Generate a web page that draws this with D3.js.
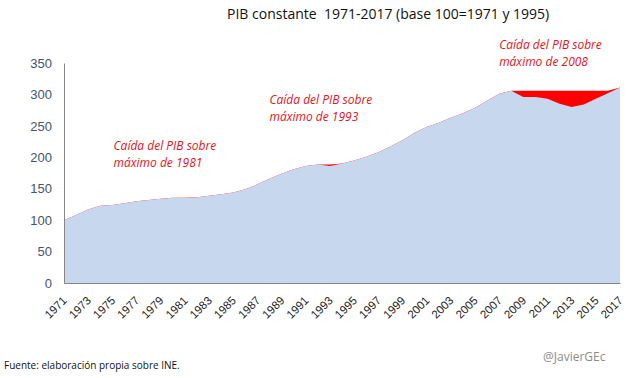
<!DOCTYPE html>
<html>
<head>
<meta charset="utf-8">
<script src="https://cdn.jsdelivr.net/npm/d3@7"></script>
<style>
  body { margin: 0; background: #fff; }
  svg { font-family: "Open Sans", "DejaVu Sans", sans-serif; }
</style>
</head>
<body>
<div id="chart"></div>
<script>
// PIB a precios constantes, indice encadenado (100 = 1971 y 1995)
const years = d3.range(1971, 2018);
const pib = [
    100, 108, 117, 123, 124, 127, 130, 132, 134, 135.5,
    135.2, 136.5, 139, 141, 144, 149, 157, 166, 174, 181,
    186, 188.5, 186, 190, 195, 201, 208, 217, 227, 239,
    248, 255, 263, 270, 279, 290, 301, 306, 296, 296,
    293, 285, 280, 284, 293, 302, 311
];
const yTicks = [0, 50, 100, 150, 200, 250, 300, 350];
const xLabels = years.filter((y) => (y - 1971) % 2 === 0);
const notes = [
    { year: 1975.1, value: 212, lines: ["Caída del PIB sobre", "máximo de 1981"] },
    { year: 1988.0, value: 285, lines: ["Caída del PIB sobre", "máximo de 1993"] },
    { year: 2007.0, value: 373, lines: ["Caída del PIB sobre", "máximo de 2008"] }
];

const width = 639, height = 378;
const margin = { left: 64, right: 19, top: 63, bottom: 95 };

const svg = d3.select("#chart")
    .append("svg")
    .attr("width", width)
    .attr("height", height);

const x = d3.scaleLinear()
    .domain([1971, 2017])
    .range([margin.left, width - margin.right]);

const y = d3.scaleLinear()
    .domain([0, 350])
    .range([height - margin.bottom, margin.top]);

// maximo acumulado: la diferencia con el valor se pinta en rojo
let runMax = 0;
const data = years.map((yr, i) => {
    runMax = Math.max(runMax, pib[i]);
    return { year: yr, value: pib[i], max: runMax };
});

svg.append("path")
    .datum(data)
    .attr("fill", "#ff0000")
    .attr("d", d3.area()
        .x((d) => x(d.year))
        .y0(y(0))
        .y1((d) => y(d.max)));

svg.append("path")
    .datum(data)
    .attr("fill", "#c6d7ee")
    .attr("d", d3.area()
        .x((d) => x(d.year))
        .y0(y(0))
        .y1((d) => y(d.value)));

// ejes
const yAxis = svg.append("g")
    .attr("transform", "translate(" + margin.left + ",0)")
    .call(d3.axisLeft(y).tickValues(yTicks).tickSize(0).tickPadding(12));
yAxis.select(".domain").attr("stroke", "#868686");
yAxis.selectAll("text")
    .attr("fill", "#44546a")
    .style("font-size", "13px");

const xAxis = svg.append("g")
    .attr("transform", "translate(0," + y(0) + ")")
    .call(d3.axisBottom(x).tickValues(xLabels).tickFormat(d3.format("d")).tickSize(0));
xAxis.select(".domain").attr("stroke", "#868686");
xAxis.selectAll("text")
    .attr("fill", "#222")
    .style("font-size", "11.5px")
    .style("text-anchor", "end")
    .attr("dx", "0")
    .attr("dy", "0")
    .attr("transform", "translate(1,16) rotate(-45)");

// anotaciones
notes.forEach(function(n) {
    const t = svg.append("text")
        .attr("x", x(n.year))
        .attr("y", y(n.value))
        .attr("fill", "#e3141b")
        .style("font-style", "italic")
        .style("font-size", "12px");
    n.lines.forEach(function(line, i) {
        t.append("tspan")
            .attr("x", x(n.year))
            .attr("dy", i === 0 ? 0 : 17)
            .text(line);
    });
});

svg.append("text")
    .attr("x", 227)
    .attr("y", 19)
    .attr("fill", "#111")
    .style("font-size", "14px")
    .attr("xml:space", "preserve")
    .text("PIB constante  1971-2017 (base 100=1971 y 1995)");

svg.append("text")
    .attr("x", 4)
    .attr("y", 369)
    .attr("fill", "#111")
    .style("font-size", "10px")
    .text("Fuente: elaboración propia sobre INE.");

svg.append("text")
    .attr("x", 543)
    .attr("y", 361)
    .attr("fill", "#8c8c8c")
    .style("font-size", "12px")
    .text("@JavierGEc");
</script>
</body>
</html>
